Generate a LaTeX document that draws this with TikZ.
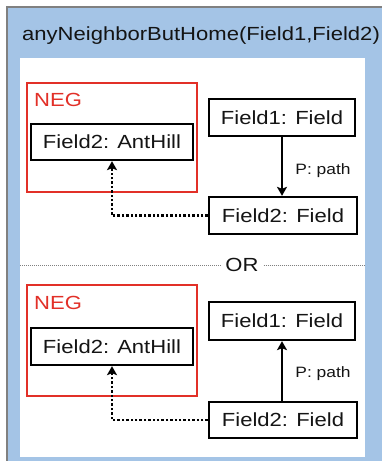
\documentclass[tikz,border=0pt]{standalone}
\usepackage{fontspec}
\setmainfont{Liberation Sans}[FakeStretch=1.16]
\usetikzlibrary{arrows.meta}
\definecolor{outerblue}{RGB}{164,196,230}
\definecolor{negred}{RGB}{226,48,40}
\definecolor{framegray}{RGB}{128,128,128}
\definecolor{inkc}{RGB}{20,20,20}
\tikzset{
  box/.style={draw=black, line width=2.3pt, fill=white, rectangle, inner sep=0pt, text=inkc, font=\fontsize{19}{22}\selectfont},
  negbox/.style={draw=negred, line width=2.5pt, rectangle, inner sep=0pt},
  negtext/.style={text=negred, anchor=base west, inner sep=0pt, font=\fontsize{19}{22}\selectfont},
  solidarr/.style={line width=2.2pt, -{Stealth[length=9pt,width=10pt,inset=2pt]}},
  dotarr/.style={line width=2.6pt, dash pattern=on 2.4pt off 2pt, -{Stealth[length=9pt,width=10pt,inset=2pt]}},
  lbl/.style={inner sep=0pt, text=inkc, font=\fontsize{15}{18}\selectfont},
  sep/.style={draw=framegray, line width=0.8pt, dash pattern=on 1pt off 1pt}
}
\begin{document}
\begin{tikzpicture}[x=1pt,y=-1pt]
\useasboundingbox (0,0) rectangle (382,461);
% outer frame
\path[fill=outerblue, draw=framegray, line width=1.5pt] (7,7) rectangle (395,475);
\node[fill=white, inner sep=0pt, minimum width=345pt, minimum height=399pt] (inner) at (192.5,257.5) {};
\node[anchor=base west, inner sep=0pt, text=inkc, font=\fontsize{19}{22}\selectfont] (title) at (22,40.5) {anyNeighborButHome(Field1,Field2)};

% top alternative
\node[negbox, minimum width=170pt, minimum height=109pt] (neg1) at (112,137.5) {};
\node[negtext] (negl1) at (34,106) {NEG};
\node[box, minimum width=162pt, minimum height=36pt] (hill1) at (112,142) {Field2: AntHill};
\node[box, minimum width=146pt, minimum height=37pt] (f11) at (282,117.5) {Field1: Field};
\node[box, minimum width=148pt, minimum height=37pt] (f21) at (283,215.5) {Field2: Field};
\draw[solidarr] (f11.south) -- (f11.south |- f21.north);
\node[lbl] (p1) at (323,171) {P: path};
\draw[dotarr] (f21.west) -| (hill1.south);

% separator
\node[inner sep=0pt, text=inkc, font=\fontsize{19}{22}\selectfont] (or) at (242,265) {OR};
\coordinate (sl) at (20,265);
\coordinate (sr) at (365,265);
\draw[sep] (sl) -- ([xshift=-4pt]or.west);
\draw[sep] ([xshift=5pt]or.east) -- (sr);

% bottom alternative
\node[negbox, minimum width=170pt, minimum height=111pt] (neg2) at (112,340.5) {};
\node[negtext] (negl2) at (34,309.5) {NEG};
\node[box, minimum width=162pt, minimum height=37pt] (hill2) at (112,346.5) {Field2: AntHill};
\node[box, minimum width=146pt, minimum height=38pt] (f12) at (282,321) {Field1: Field};
\node[box, minimum width=148pt, minimum height=36pt] (f22) at (283,420) {Field2: Field};
\draw[solidarr] (f12.south |- f22.north) -- (f12.south);
\node[lbl] (p2) at (323,374) {P: path};
\draw[dotarr] (f22.west) -| (hill2.south);
\end{tikzpicture}
\end{document}
